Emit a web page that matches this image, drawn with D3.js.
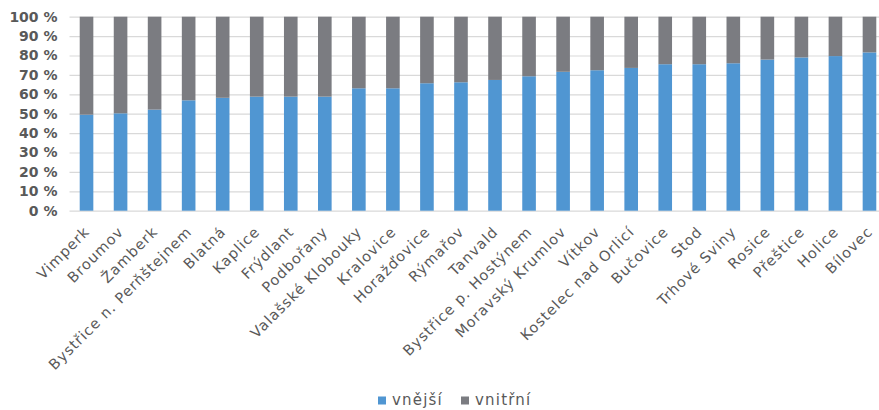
<!DOCTYPE html>
<html>
<head>
<meta charset="utf-8">
<script src="https://cdn.jsdelivr.net/npm/d3@7"></script>
<style>
  body { margin: 0; background: #fff; }
  svg { display: block; }
</style>
</head>
<body>
<div id="chart"></div>
<script>
// towns, sorted by share of outer (vnější) part
const towns = [
  'Vimperk', 'Broumov', 'Žamberk', 'Bystřice n. Perňštejnem', 'Blatná', 'Kaplice',
  'Frýdlant', 'Podbořany', 'Valašské Klobouky', 'Kralovice', 'Horažďovice', 'Rýmařov',
  'Tanvald', 'Bystřice p. Hostýnem', 'Moravský Krumlov', 'Vítkov', 'Kostelec nad Orlicí',
  'Bučovice', 'Stod', 'Trhové Sviny', 'Rosice', 'Přeštice', 'Holice', 'Bílovec'
];

// share of vnější in %, vnitřní is the rest up to 100
const outer = [
  49.5, 50.2, 52.1, 56.9, 58.2, 58.8,
  58.8, 58.8, 63.1, 63.1, 65.7, 66.2,
  67.4, 69.3, 71.6, 72.4, 73.6,
  75.5, 75.5, 76.0, 77.9, 79.0, 79.7, 81.6
];
const inner = outer.map((v) => 100 - v);

const seriesNames = ['vnější', 'vnitřní'];
const seriesColors = ['#5096d2', '#7b7c81'];
const yTicks = [0, 10, 20, 30, 40, 50, 60, 70, 80, 90, 100];

const width = 879;
const height = 410;
const plotLeft = 69.5;
const plotRight = 886.5; // chart runs a bit past the right edge
const plotTop = 16.7;
const plotBottom = 210.7;
const font = '"DejaVu Sans", Verdana, sans-serif';

const svg = d3
  .select('#chart')
  .append('svg')
  .attr('width', width)
  .attr('height', height);

const x = d3
  .scaleBand()
  .domain(towns)
  .range([plotLeft, plotRight])
  .paddingInner(0.6)
  .paddingOuter(0.3);

const y = d3.scaleLinear().domain([0, 100]).range([plotBottom, plotTop]);

// gridlines + y labels
const yAxis = svg
  .append('g')
  .attr('transform', `translate(${plotLeft},0)`)
  .call(
    d3
      .axisLeft(y)
      .tickValues(yTicks)
      .tickSize(-(width - plotLeft))
      .tickPadding(12)
      .tickFormat((d) => d + ' %')
  );
yAxis.select('.domain').remove();
yAxis.selectAll('line').attr('stroke', '#d9d9d9').attr('stroke-width', 1.2);
yAxis
  .selectAll('text')
  .attr('fill', '#595959')
  .attr('font-family', font)
  .attr('font-size', 14)
  .attr('font-weight', 'bold');

// stacked bars
const table = towns.map((t, i) => ({ town: t, 'vnější': outer[i], 'vnitřní': inner[i] }));
const stacked = d3.stack().keys(seriesNames)(table);

svg
  .append('g')
  .selectAll('g')
  .data(stacked)
  .join('g')
  .attr('fill', (d, i) => seriesColors[i])
  .selectAll('rect')
  .data((d) => d)
  .join('rect')
  .attr('x', (d) => x(d.data.town))
  .attr('width', x.bandwidth())
  .attr('y', (d) => y(d[1]))
  .attr('height', (d) => y(d[0]) - y(d[1]));

// rotated category labels
const xAxis = svg
  .append('g')
  .attr('transform', `translate(0,${plotBottom})`)
  .call(d3.axisBottom(x).tickSize(0));
xAxis.select('.domain').remove();
xAxis
  .selectAll('text')
  .attr('x', 0)
  .attr('y', 0)
  .attr('dy', 0)
  .attr('transform', 'translate(4,22) rotate(-45)')
  .attr('text-anchor', 'end')
  .attr('fill', '#595959')
  .attr('font-family', font)
  .attr('font-size', 14.5)
  .attr('letter-spacing', 1);

// legend
const legend = svg
  .append('g')
  .selectAll('g')
  .data(seriesNames)
  .join('g')
  .attr('transform', (d, i) => `translate(${i === 0 ? 378 : 461},0)`);

legend
  .append('rect')
  .attr('y', 396.5)
  .attr('width', 8)
  .attr('height', 8)
  .attr('fill', (d, i) => seriesColors[i]);

legend
  .append('text')
  .attr('x', 14)
  .attr('y', 404.5)
  .attr('fill', '#595959')
  .attr('font-family', font)
  .attr('font-size', 15)
  .attr('letter-spacing', 1.2)
  .text((d) => d);
</script>
</body>
</html>
